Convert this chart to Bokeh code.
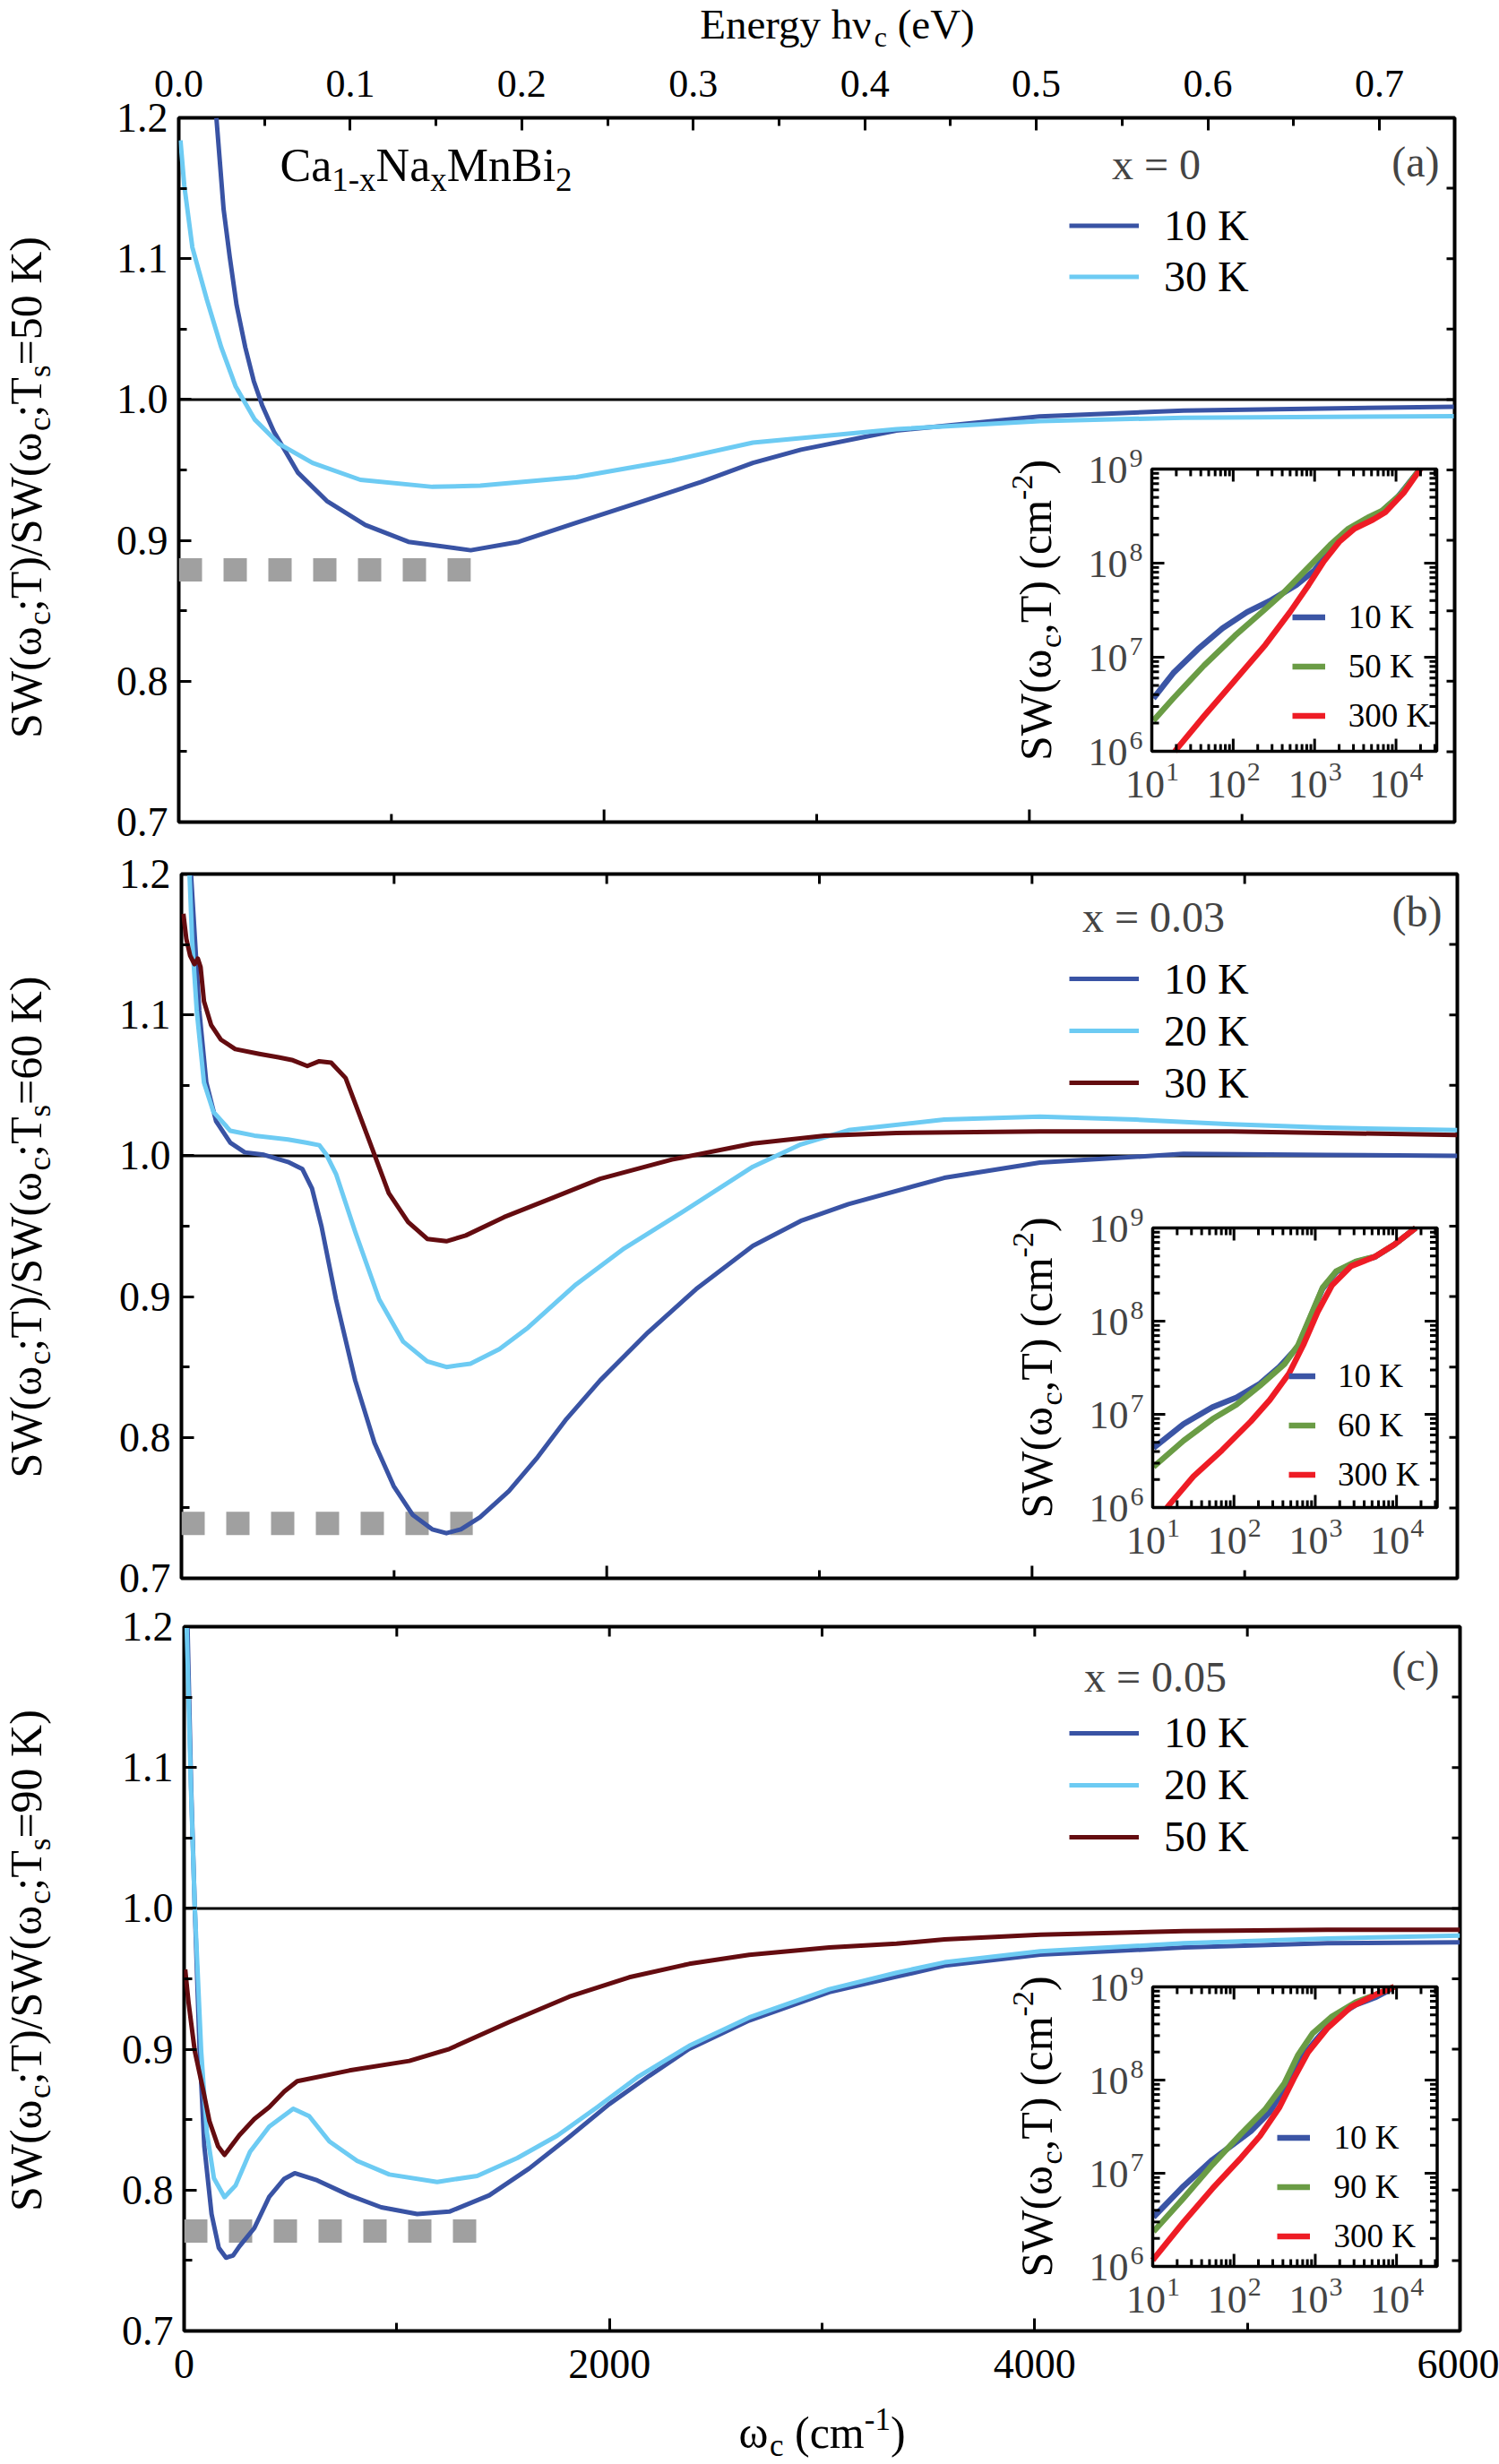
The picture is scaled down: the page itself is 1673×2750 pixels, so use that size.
import math
from bokeh.plotting import figure
from bokeh.models import (Range1d, LinearAxis, FixedTicker, PrintfTickFormatter, Span, Label,
                          Legend, LegendItem, LogScale)
from bokeh.layouts import column, row
from bokeh.embed import file_html
from bokeh.resources import INLINE

FONT = "Liberation Serif"

# ---------------- data ----------------
W_MAX = 6000.0
EV_PER_CM = 1.23984e-4
Y_TICKS = [0.7, 0.8, 0.9, 1.0, 1.1, 1.2]
Y_MINOR = [0.75, 0.85, 0.95, 1.05, 1.15]
X_TICKS = [0, 2000, 4000, 6000]
X_MINOR = [1000, 3000, 5000]
EV_TICKS = [0.0, 0.1, 0.2, 0.3, 0.4, 0.5, 0.6, 0.7]
EV_MINOR = [0.05, 0.15, 0.25, 0.35, 0.45, 0.55, 0.65]
REF_LEVEL = 1.0

# panel (a) x = 0, Ts = 50 K
a_10K_w = [177, 211, 240, 272, 313, 353, 392, 448, 561, 696, 877, 1080, 1373, 1599, 1870, 2186, 2457, 2700, 2926, 3375, 4049, 4725, 5996]
a_10K_r = [1.2, 1.135, 1.101, 1.067, 1.037, 1.013, 0.996, 0.977, 0.948, 0.928, 0.911, 0.899, 0.893, 0.899, 0.9126, 0.928, 0.9415, 0.955, 0.9644, 0.978, 0.988, 0.9922, 0.9949]
a_30K_w = [8, 26, 64, 132, 200, 267, 358, 470, 629, 854, 1193, 1418, 1870, 2321, 2700, 3375, 4049, 4725, 5996]
a_30K_r = [1.184, 1.152, 1.108, 1.071, 1.037, 1.0095, 0.9857, 0.9687, 0.955, 0.943, 0.938, 0.9388, 0.9449, 0.9568, 0.9694, 0.979, 0.9847, 0.9871, 0.9881]
a_gap_w = [0, 1373]
a_gap_r = 0.879

# panel (b) x = 0.03, Ts = 60 K
b_10K_w = [45, 84, 117, 163, 230, 298, 388, 501, 569, 614, 659, 727, 817, 908, 998, 1088, 1179, 1246, 1314, 1404, 1540, 1675, 1811, 1969, 2194, 2420, 2687, 2912, 3137, 3587, 4037, 4712, 5388, 6000]
b_10K_r = [1.2, 1.103, 1.052, 1.0245, 1.0092, 1.0024, 1.0007, 0.9956, 0.9905, 0.9768, 0.9496, 0.898, 0.8405, 0.796, 0.7655, 0.745, 0.7348, 0.732, 0.7348, 0.7434, 0.762, 0.786, 0.8132, 0.8405, 0.8746, 0.9053, 0.936, 0.9537, 0.9657, 0.9843, 0.9952, 1.0013, 1.0006, 1.000]
b_20K_w = [38, 50, 72, 106, 151, 230, 343, 501, 592, 648, 682, 727, 817, 930, 1043, 1156, 1246, 1359, 1495, 1630, 1856, 2082, 2353, 2687, 2912, 3137, 3587, 4037, 4487, 4937, 5388, 6000]
b_20K_r = [1.2, 1.154, 1.103, 1.052, 1.031, 1.0177, 1.0143, 1.0116, 1.0092, 1.0075, 1.0007, 0.987, 0.946, 0.898, 0.868, 0.854, 0.85, 0.8524, 0.8627, 0.878, 0.9087, 0.9342, 0.9598, 0.9922, 1.008, 1.0182, 1.0257, 1.0277, 1.0257, 1.0223, 1.0199, 1.0182]
b_30K_w = [9, 23, 41, 61, 77, 90, 106, 140, 185, 253, 366, 456, 524, 592, 648, 704, 772, 840, 908, 975, 1066, 1156, 1246, 1337, 1517, 1743, 1969, 2307, 2687, 3025, 3362, 4037, 4937, 6000]
b_30K_r = [1.1718, 1.154, 1.142, 1.136, 1.14, 1.134, 1.1097, 1.0927, 1.0825, 1.0757, 1.0723, 1.0699, 1.0678, 1.0637, 1.0671, 1.0661, 1.0552, 1.028, 1.0007, 0.9734, 0.953, 0.941, 0.9393, 0.9434, 0.9564, 0.97, 0.9836, 0.9973, 1.0087, 1.0142, 1.0162, 1.0172, 1.0172, 1.0148]
b_gap_w = [0, 1370]
b_gap_r = 0.739

# panel (c) x = 0.05, Ts = 90 K
c_10K_w = [16, 33, 50, 73, 95, 129, 163, 197, 230, 260, 330, 400, 471, 520, 626, 777, 927, 1096, 1247, 1435, 1623, 1811, 1999, 2187, 2375, 2657, 3034, 3350, 3576, 4026, 4701, 5376, 6000]
c_10K_r = [1.2, 1.086, 1.001, 0.899, 0.831, 0.783, 0.759, 0.752, 0.7535, 0.760, 0.773, 0.7952, 0.808, 0.812, 0.8069, 0.7963, 0.7878, 0.783, 0.7847, 0.7963, 0.8154, 0.8377, 0.861, 0.8811, 0.9002, 0.9204, 0.9405, 0.9515, 0.9593, 0.9671, 0.9722, 0.9753, 0.976]
c_20K_w = [12, 32, 50, 80, 107, 140, 190, 242, 310, 400, 513, 588, 683, 814, 965, 1190, 1378, 1567, 1755, 1943, 2131, 2375, 2657, 3034, 3350, 3576, 4026, 4701, 5376, 6000]
c_20K_r = [1.2, 1.086, 1.001, 0.899, 0.8408, 0.8085, 0.795, 0.8033, 0.8272, 0.8451, 0.8578, 0.8525, 0.8345, 0.8207, 0.8111, 0.8058, 0.8101, 0.8228, 0.8387, 0.8589, 0.8801, 0.9024, 0.9225, 0.9426, 0.9543, 0.9617, 0.9695, 0.9753, 0.9787, 0.9807]
c_50K_w = [5, 21, 50, 91, 119, 160, 190, 260, 330, 400, 471, 532, 777, 1059, 1247, 1529, 1811, 2093, 2375, 2657, 3034, 3350, 3576, 4026, 4701, 5376, 6000]
c_50K_r = [0.9567, 0.9329, 0.8988, 0.87, 0.849, 0.831, 0.825, 0.839, 0.8504, 0.8589, 0.87, 0.8773, 0.8849, 0.8917, 0.9002, 0.9193, 0.9373, 0.9511, 0.9606, 0.967, 0.9723, 0.9749, 0.978, 0.9814, 0.9838, 0.9848, 0.9848]
c_gap_w = [0, 1378]
c_gap_r = 0.771

# insets: log10(omega_c) and log10(SW)
INS_LOGX = (1.0, 4.5)
INS_LOGY = (6.0, 9.0)
ia_10K_lw = [1.02, 1.264, 1.566, 1.868, 2.17, 2.47, 2.774, 3.0, 3.19, 3.377, 3.6, 3.79, 4.02, 4.28]
ia_10K_ls = [6.563, 6.832, 7.085, 7.307, 7.48, 7.608, 7.766, 7.924, 8.146, 8.32, 8.446, 8.525, 8.70, 8.984]
ia_50K_lw = [1.02, 1.264, 1.64, 2.02, 2.396, 2.62, 2.925, 3.19, 3.415, 3.64, 3.83, 4.057, 4.28]
ia_50K_ls = [6.326, 6.563, 6.911, 7.228, 7.513, 7.687, 7.956, 8.193, 8.367, 8.478, 8.557, 8.731, 8.984]
ia_300K_lw = [1.283, 1.64, 2.02, 2.396, 2.698, 2.925, 3.113, 3.3, 3.49, 3.717, 3.868, 4.094, 4.3]
ia_300K_ls = [6.0, 6.373, 6.753, 7.133, 7.481, 7.766, 8.019, 8.225, 8.367, 8.462, 8.541, 8.747, 9.0]

ib_10K_lw = [1.01, 1.38, 1.735, 2.03, 2.32, 2.56, 2.79, 2.94, 3.09, 3.26, 3.5, 3.735, 3.97, 4.235]
ib_10K_ls = [6.64, 6.897, 7.077, 7.18, 7.33, 7.51, 7.73, 8.04, 8.35, 8.53, 8.635, 8.69, 8.82, 9.0]
ib_60K_lw = [1.01, 1.38, 1.735, 2.03, 2.32, 2.62, 2.79, 2.94, 3.09, 3.26, 3.5, 3.735, 3.97, 4.235]
ib_60K_ls = [6.436, 6.718, 6.949, 7.103, 7.308, 7.538, 7.744, 8.05, 8.359, 8.538, 8.641, 8.692, 8.82, 9.0]
ib_300K_lw = [1.176, 1.5, 1.853, 2.206, 2.44, 2.676, 2.853, 3.03, 3.206, 3.44, 3.735, 3.97, 4.235]
ib_300K_ls = [6.0, 6.333, 6.615, 6.923, 7.154, 7.436, 7.744, 8.1, 8.385, 8.59, 8.692, 8.82, 9.0]

ic_10K_lw = [1.01, 1.38, 1.735, 1.97, 2.206, 2.44, 2.62, 2.79, 3.03, 3.265, 3.5, 3.735, 3.85, 3.97]
ic_10K_ls = [6.528, 6.862, 7.144, 7.297, 7.451, 7.656, 7.913, 8.195, 8.451, 8.682, 8.81, 8.887, 8.938, 9.0]
ic_90K_lw = [1.01, 1.38, 1.735, 2.09, 2.38, 2.62, 2.79, 2.97, 3.206, 3.5, 3.735, 3.97]
ic_90K_ls = [6.374, 6.733, 7.092, 7.426, 7.682, 7.964, 8.272, 8.503, 8.682, 8.836, 8.913, 9.0]
ic_300K_lw = [1.0, 1.38, 1.735, 2.09, 2.32, 2.56, 2.735, 2.91, 3.147, 3.44, 3.735, 3.97]
ic_300K_ls = [6.067, 6.477, 6.836, 7.169, 7.4, 7.708, 8.015, 8.297, 8.554, 8.785, 8.913, 9.0]

# ---------------- styles / layout ----------------
C_DB = "#3953a4"
C_LB = "#6dcbf3"
C_DR = "#640c10"
C_IB = "#3b55a5"
C_IG = "#6a9c45"
C_IR = "#ee1c25"
C_GAP = "#a0a0a0"

CANVAS_W = 1673
FRAME_W = 1424
FRAME_H = 786
YL_W = 66       # strip holding the rotated y titles
TOP_H = 58      # strip holding the top axis title
BOT_H = 76      # strip holding the bottom axis title
CORR = 0.33     # baseline correction (fraction of font size)

CW = {' ': 0.25, '(': 0.333, ')': 0.333, ',': 0.25, '-': 0.333, '.': 0.25, '/': 0.278, ';': 0.278,
      '=': 0.564, 'A': 0.722, 'B': 0.667, 'C': 0.667, 'E': 0.611, 'K': 0.722, 'M': 0.889, 'N': 0.722,
      'S': 0.556, 'T': 0.611, 'V': 0.722, 'W': 0.944, 'a': 0.444, 'b': 0.5, 'c': 0.444, 'e': 0.444,
      'g': 0.5, 'h': 0.5, 'i': 0.278, 'm': 0.778, 'n': 0.5, 'r': 0.333, 's': 0.389, 'x': 0.5, 'y': 0.5,
      '\u03c9': 0.69, '\u03bd': 0.5}
for d in "0123456789":
    CW[d] = 0.5


def text_w(s, size):
    return sum(CW.get(ch, 0.5) for ch in s) * size


def rich(p, segs, x, y, ox, oy, size, small=None, angle=0.0, align="left", xr="default", yr="default",
         sub=0.22, sup=0.40):
    small = small or round(size * 0.7)
    ws = [text_w(t, size if k == "n" else small) for t, k in segs]
    total = sum(ws)
    cur = {"left": 0.0, "center": -total / 2, "right": -total}[align]
    for (t, k), w in zip(segs, ws):
        fs = size if k == "n" else small
        lead = len(t) - len(t.lstrip(" "))
        body = t.strip(" ")
        off = cur + text_w(" " * lead, fs)
        shift = {"n": 0.0, "sub": -sub * size, "sup": sup * size}[k] + CORR * fs
        if angle == 0:
            xo, yo = ox + off, oy + shift
        else:
            xo, yo = ox - shift, oy + off
        if body:
            p.add_layout(Label(x=x, y=y, x_offset=xo, y_offset=yo, text=body, angle=angle,
                               text_font=FONT, text_font_size=f"{fs}px", text_align="left",
                               text_baseline="alphabetic", text_color="black",
                               x_range_name=xr, y_range_name=yr))
        cur += w


def text_fig(w, h):
    f = figure(width=w, height=h, x_range=Range1d(0, w), y_range=Range1d(h, 0),
               output_backend="svg", toolbar_location=None, tools="",
               x_axis_location=None, y_axis_location=None,
               min_border_left=0, min_border_right=0, min_border_top=0, min_border_bottom=0)
    f.outline_line_color = None
    f.xgrid.visible = False
    f.ygrid.visible = False
    f.background_fill_color = "white"
    f.border_fill_color = "white"
    return f


def style_axis(ax, major_in, minor_in, label_size, standoff):
    ax.axis_line_color = None
    ax.major_tick_in = major_in
    ax.major_tick_out = 0
    ax.minor_tick_in = minor_in
    ax.minor_tick_out = 0
    ax.major_tick_line_width = 3
    ax.minor_tick_line_width = 3
    ax.major_tick_line_color = "black"
    ax.minor_tick_line_color = "black"
    ax.major_label_text_font = FONT
    ax.major_label_text_font_size = label_size
    ax.major_label_text_color = "black"
    ax.major_label_standoff = standoff


def ticks(p, xs, ys, length, angle, **kw):
    p.ray(x=xs, y=ys, length=length, angle=angle, length_units="screen",
          line_color="black", line_width=3, **kw)


PANELS = [
    dict(key="a", L=199, T=131, fig_top=TOP_H, fig_h=946 - TOP_H, ts="50",
         curves=[("10 K", a_10K_w, a_10K_r, C_DB), ("30 K", a_30K_w, a_30K_r, C_LB)],
         gap=(a_gap_w, a_gap_r), title="x = 0", title_cx=1290, title_base=199,
         letter="(a)", letter_right=1606, letter_base=196, leg_top=251 - 28.5, leg_sp=57,
         inset=(1285, 1603, 523, 838),
         ins=[("10 K", ia_10K_lw, ia_10K_ls, C_IB), ("50 K", ia_50K_lw, ia_50K_ls, C_IG), ("300 K", ia_300K_lw, ia_300K_ls, C_IR)],
         ileg=(1441.7, 689 - 27.35, 54.7, 37, 26)),
    dict(key="b", L=202, T=975, fig_top=946, fig_h=842, ts="60",
         curves=[("10 K", b_10K_w, b_10K_r, C_DB), ("20 K", b_20K_w, b_20K_r, C_LB), ("30 K", b_30K_w, b_30K_r, C_DR)],
         gap=(b_gap_w, b_gap_r), title="x = 0.03", title_cx=1287, title_base=1039,
         letter="(b)", letter_right=1609, letter_base=1033, leg_top=1091 - 29.25, leg_sp=58.5,
         inset=(1286, 1603.5, 1370, 1682),
         ins=[("10 K", ib_10K_lw, ib_10K_ls, C_IB), ("60 K", ib_60K_lw, ib_60K_ls, C_IG), ("300 K", ib_300K_lw, ib_300K_ls, C_IR)],
         ileg=(1438, 1535.3 - 27.6, 55.25, 30, 25)),
    dict(key="c", L=205, T=1815, fig_top=1788, fig_h=2750 - BOT_H - 1788, ts="90",
         curves=[("10 K", c_10K_w, c_10K_r, C_DB), ("20 K", c_20K_w, c_20K_r, C_LB), ("50 K", c_50K_w, c_50K_r, C_DR)],
         gap=(c_gap_w, c_gap_r), title="x = 0.05", title_cx=1289, title_base=1887,
         letter="(c)", letter_right=1606, letter_base=1875, leg_top=1933.8 - 29, leg_sp=57.9,
         inset=(1286, 1603.5, 2217, 2529),
         ins=[("10 K", ic_10K_lw, ic_10K_ls, C_IB), ("90 K", ic_90K_lw, ic_90K_ls, C_IG), ("300 K", ic_300K_lw, ic_300K_ls, C_IR)],
         ileg=(1424.6, 2384.9 - 27.6, 55.25, 37, 27)),
]

rows = []
for spec in PANELS:
    L, T = spec["L"], spec["T"]
    fig_top, fig_h = spec["fig_top"], spec["fig_h"]
    R = CANVAS_W - L - FRAME_W
    B = fig_top + fig_h - (T + FRAME_H)
    key = spec["key"]

    p = figure(width=CANVAS_W - YL_W, height=fig_h, x_range=Range1d(0, W_MAX), y_range=Range1d(0.7, 1.2),
               output_backend="svg", toolbar_location=None, tools="",
               x_axis_location="below" if key == "c" else None,
               min_border_left=L - YL_W, min_border_right=R, min_border_top=T - fig_top, min_border_bottom=B)
    p.background_fill_color = "white"
    p.border_fill_color = "white"
    p.outline_line_color = "black"
    p.outline_line_width = 4
    p.xgrid.visible = False
    p.ygrid.visible = False

    # inset log scales mapped onto the whole frame
    il, ir, it, ib = spec["inset"]
    ppx = (ir - il) / (INS_LOGX[1] - INS_LOGX[0])
    ppy = (ib - it) / (INS_LOGY[1] - INS_LOGY[0])
    lox = INS_LOGX[0] - (il - L) / ppx
    hix = INS_LOGX[1] + (L + FRAME_W - ir) / ppx
    loy = INS_LOGY[0] - (T + FRAME_H - ib) / ppy
    hiy = INS_LOGY[1] + (it - T) / ppy
    p.extra_x_ranges = {"ev": Range1d(0, W_MAX * EV_PER_CM), "ix": Range1d(10 ** lox, 10 ** hix)}
    p.extra_x_scales = {"ix": LogScale()}
    p.extra_y_ranges = {"iy": Range1d(10 ** loy, 10 ** hiy)}
    p.extra_y_scales = {"iy": LogScale()}

    # left axis (labelled)
    ly = p.yaxis[0]
    ly.ticker = FixedTicker(ticks=Y_TICKS, minor_ticks=Y_MINOR)
    ly.formatter = PrintfTickFormatter(format="%.1f")
    style_axis(ly, 14, 9, "46px", 12)
    # bottom
    if key == "c":
        bx = p.xaxis[0]
        bx.ticker = FixedTicker(ticks=X_TICKS, minor_ticks=X_MINOR)
        bx.formatter = PrintfTickFormatter(format="%d")
        style_axis(bx, 14, 9, "46px", 21)
    else:
        ticks(p, X_TICKS, [0.7] * len(X_TICKS), 14, math.pi / 2)
        ticks(p, X_MINOR, [0.7] * len(X_MINOR), 9, math.pi / 2)
    # top
    if key == "a":
        tx = LinearAxis(x_range_name="ev", ticker=FixedTicker(ticks=EV_TICKS, minor_ticks=EV_MINOR),
                        formatter=PrintfTickFormatter(format="%.1f"))
        style_axis(tx, 14, 9, "44px", 24)
        p.add_layout(tx, "above")
    else:
        top_t = sorted(X_TICKS + X_MINOR)
        ticks(p, top_t, [1.2] * len(top_t), 11, -math.pi / 2)
    # right
    right_t = sorted(Y_TICKS + Y_MINOR)
    ticks(p, [W_MAX] * len(right_t), right_t, 9, math.pi)

    # reference line
    p.add_layout(Span(location=REF_LEVEL, dimension="width", line_color="black", line_width=3, level="underlay"))

    # gap marker
    gw, gr = spec["gap"]
    p.line(gw, [gr] * len(gw), line_color=C_GAP, line_width=26, line_dash="26 24", line_cap="butt")

    # curves
    items = []
    for lab, xs, ys, col in spec["curves"]:
        r = p.line(xs, ys, line_color=col, line_width=5, line_join="round")
        items.append(LegendItem(label=lab, renderers=[r]))
    leg = Legend(items=items, location=(1193 - L, T + FRAME_H - (spec["leg_top"] + spec["leg_sp"] * len(items))),
                 label_text_font=FONT, label_text_font_size="48px", label_text_color="black",
                 glyph_width=78, glyph_height=int(round(spec["leg_sp"])), label_height=int(round(spec["leg_sp"])),
                 spacing=0, label_standoff=28, padding=0, margin=0, border_line_color=None,
                 background_fill_alpha=0)
    p.add_layout(leg)

    # ---- inset ----
    xlo, xhi = 10 ** INS_LOGX[0], 10 ** INS_LOGX[1]
    ylo, yhi = 10 ** INS_LOGY[0], 10 ** INS_LOGY[1]
    kw = dict(x_range_name="ix", y_range_name="iy")
    p.quad(left=[xlo], right=[xhi], bottom=[ylo], top=[yhi], fill_color="white", line_color=None, **kw)
    iitems = []
    for lab, lw, ls, col in spec["ins"]:
        r = p.line([10 ** v for v in lw], [10 ** v for v in ls], line_color=col, line_width=6.5,
                   line_join="round", **kw)
        iitems.append(LegendItem(label=lab, renderers=[r]))
    p.quad(left=[xlo], right=[xhi], bottom=[ylo], top=[yhi], fill_color=None, line_color="black",
           line_width=3.5, **kw)
    xmaj = [10.0 ** k for k in range(1, 5)]
    xmin = [m * 10.0 ** k for k in range(1, 5) for m in range(2, 10) if m * 10.0 ** k < xhi]
    ymaj = [10.0 ** k for k in range(6, 10)]
    ymin = [m * 10.0 ** k for k in range(6, 9) for m in range(2, 10)]
    for vals, ln in ((xmaj, 14), (xmin, 8)):
        ticks(p, vals, [ylo] * len(vals), ln, math.pi / 2, **kw)
        ticks(p, vals, [yhi] * len(vals), ln, -math.pi / 2, **kw)
    for vals, ln in ((ymaj, 14), (ymin, 8)):
        ticks(p, [xlo] * len(vals), vals, ln, 0.0, **kw)
        ticks(p, [xhi] * len(vals), vals, ln, math.pi, **kw)
    gx, gtop, gsp, gwid, gstand = spec["ileg"]
    ileg = Legend(items=iitems, location=(gx - L, T + FRAME_H - (gtop + gsp * 3)),
                  label_text_font=FONT, label_text_font_size="37px", label_text_color="black",
                  glyph_width=gwid, glyph_height=int(round(gsp)), label_height=int(round(gsp)),
                  spacing=0, label_standoff=gstand, padding=0, margin=0, border_line_color=None,
                  background_fill_alpha=0)
    p.add_layout(ileg)
    # inset tick labels
    for k in range(1, 5):
        tot = text_w("10", 44) + text_w(str(k), 30)
        p.add_layout(Label(x=10.0 ** k, y=ylo, x_offset=-tot / 2, y_offset=-52 + CORR * 44, text="10",
                           text_font=FONT, text_font_size="44px", text_align="left",
                           text_baseline="alphabetic", **kw))
        p.add_layout(Label(x=10.0 ** k, y=ylo, x_offset=-tot / 2 + text_w("10", 44) + 1,
                           y_offset=-33 + CORR * 30, text=str(k), text_font=FONT, text_font_size="30px",
                           text_align="left", text_baseline="alphabetic", **kw))
    for k in range(6, 10):
        p.add_layout(Label(x=xlo, y=10.0 ** k, x_offset=-27, y_offset=-16 + CORR * 44, text="10",
                           text_font=FONT, text_font_size="44px", text_align="right",
                           text_baseline="alphabetic", **kw))
        p.add_layout(Label(x=xlo, y=10.0 ** k, x_offset=-25, y_offset=2 + CORR * 30, text=str(k),
                           text_font=FONT, text_font_size="30px", text_align="left",
                           text_baseline="alphabetic", **kw))
    rich(p, [("SW(\u03c9", "n"), ("c", "sub"), (",T) (cm", "n"), ("-2", "sup"), (")", "n")],
         xlo, 10 ** ((INS_LOGY[0] + INS_LOGY[1]) / 2), -113, 0, 50, 34, angle=math.pi / 2, align="center",
         xr="ix", yr="iy")

    # ---- texts inside the frame ----
    p.add_layout(Label(x=0, y=1.2, x_offset=spec["title_cx"] - L,
                       y_offset=-(spec["title_base"] - T) + CORR * 48,
                       text=spec["title"], text_font=FONT, text_font_size="48px",
                       text_align="center", text_baseline="alphabetic"))
    p.add_layout(Label(x=W_MAX, y=1.2, x_offset=spec["letter_right"] - (L + FRAME_W),
                       y_offset=-(spec["letter_base"] - T) + CORR * 48, text=spec["letter"], text_font=FONT,
                       text_font_size="48px", text_align="right", text_baseline="alphabetic"))
    if key == "a":
        rich(p, [("Ca", "n"), ("1-x", "sub"), ("Na", "n"), ("x", "sub"), ("MnBi", "n"), ("2", "sub")],
             0, 1.2, 312 - L, -(201 - T), 52, 37)

    # ---- rotated y title in its own strip ----
    yl = text_fig(YL_W, fig_h)
    rich(yl, [("SW(\u03c9", "n"), ("c", "sub"), (";T)/SW(\u03c9", "n"), ("c", "sub"), (";T", "n"), ("s", "sub"),
              ("=" + spec["ts"] + " K)", "n")],
         45, T + FRAME_H / 2 - fig_top, 0, 0, 50, 35, angle=math.pi / 2, align="center")
    rows.append(row(yl, p, spacing=0))

# top title strip
top = text_fig(CANVAS_W, TOP_H)
rich(top, [("Energy h\u03bd", "n"), ("c", "sub"), (" (eV)", "n")], 934, 42.5, 0, 0, 47, 32,
     align="center", sub=0.18)
# bottom title strip
bot = text_fig(CANVAS_W, BOT_H)
rich(bot, [("\u03c9", "n"), ("c", "sub"), (" (cm", "n"), ("-1", "sup"), (")", "n")],
     917, 2731 - (2750 - BOT_H), 0, 0, 50, 35, align="center", sub=0.20, sup=0.40)

layout = column(top, *rows, bot, spacing=0)
open("out.html", "w").write(file_html(layout, INLINE))
